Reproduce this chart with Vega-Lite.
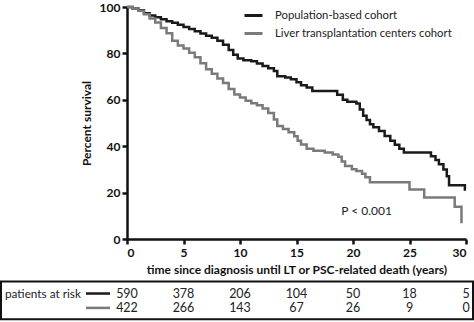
{
  "$schema": "https://vega.github.io/schema/vega-lite/v6.json",
  "width": 339,
  "height": 232,
  "autosize": {"type": "none"},
  "padding": {"left": 127, "top": 7, "right": 8, "bottom": 83},
  "background": "white",
  "config": {
    "view": {"stroke": null},
    "font": "Lato",
    "axis": {
      "grid": false,
      "domainColor": "#111",
      "domainWidth": 2.5,
      "tickColor": "#111",
      "tickWidth": 2.5,
      "tickSize": 5,
      "labelFont": "Lato",
      "labelFontWeight": "bold",
      "labelFontSize": 12,
      "labelColor": "#111",
      "titleFont": "Lato",
      "titleFontWeight": "bold",
      "titleFontSize": 12,
      "titleColor": "#111"
    }
  },
  "datasets": {
    "surv": [
      {"cohort": "Population-based cohort", "t": 0, "s": 100},
      {"cohort": "Population-based cohort", "t": 0.5, "s": 99.3},
      {"cohort": "Population-based cohort", "t": 1, "s": 98.6},
      {"cohort": "Population-based cohort", "t": 1.5, "s": 97.3},
      {"cohort": "Population-based cohort", "t": 2, "s": 96.3},
      {"cohort": "Population-based cohort", "t": 2.5, "s": 95.6},
      {"cohort": "Population-based cohort", "t": 3, "s": 94.7},
      {"cohort": "Population-based cohort", "t": 3.5, "s": 93.9},
      {"cohort": "Population-based cohort", "t": 4, "s": 93.2},
      {"cohort": "Population-based cohort", "t": 4.5, "s": 92.3},
      {"cohort": "Population-based cohort", "t": 5, "s": 91.4},
      {"cohort": "Population-based cohort", "t": 5.5, "s": 90.5},
      {"cohort": "Population-based cohort", "t": 6, "s": 89.5},
      {"cohort": "Population-based cohort", "t": 6.5, "s": 88.6},
      {"cohort": "Population-based cohort", "t": 7, "s": 87.6},
      {"cohort": "Population-based cohort", "t": 7.5, "s": 86.7},
      {"cohort": "Population-based cohort", "t": 8, "s": 85.4},
      {"cohort": "Population-based cohort", "t": 8.5, "s": 83.7},
      {"cohort": "Population-based cohort", "t": 9, "s": 81.5},
      {"cohort": "Population-based cohort", "t": 9.4, "s": 79.4},
      {"cohort": "Population-based cohort", "t": 9.8, "s": 77.8},
      {"cohort": "Population-based cohort", "t": 10.3, "s": 77.1},
      {"cohort": "Population-based cohort", "t": 11, "s": 76.6},
      {"cohort": "Population-based cohort", "t": 11.5, "s": 75.6},
      {"cohort": "Population-based cohort", "t": 12, "s": 74.6},
      {"cohort": "Population-based cohort", "t": 12.5, "s": 73.6},
      {"cohort": "Population-based cohort", "t": 13, "s": 72.4},
      {"cohort": "Population-based cohort", "t": 13.3, "s": 70.2},
      {"cohort": "Population-based cohort", "t": 14, "s": 69.6},
      {"cohort": "Population-based cohort", "t": 14.5, "s": 68.9},
      {"cohort": "Population-based cohort", "t": 15, "s": 67.6},
      {"cohort": "Population-based cohort", "t": 15.4, "s": 66.3},
      {"cohort": "Population-based cohort", "t": 15.9, "s": 65.3},
      {"cohort": "Population-based cohort", "t": 16.4, "s": 63.8},
      {"cohort": "Population-based cohort", "t": 18.6, "s": 62.2},
      {"cohort": "Population-based cohort", "t": 19.1, "s": 60},
      {"cohort": "Population-based cohort", "t": 19.5, "s": 59.2},
      {"cohort": "Population-based cohort", "t": 20.3, "s": 58.4},
      {"cohort": "Population-based cohort", "t": 20.6, "s": 55.8},
      {"cohort": "Population-based cohort", "t": 20.9, "s": 53.1},
      {"cohort": "Population-based cohort", "t": 21.2, "s": 51.3},
      {"cohort": "Population-based cohort", "t": 21.5, "s": 49.5},
      {"cohort": "Population-based cohort", "t": 21.8, "s": 48.2},
      {"cohort": "Population-based cohort", "t": 22.3, "s": 46.6},
      {"cohort": "Population-based cohort", "t": 22.8, "s": 44.4},
      {"cohort": "Population-based cohort", "t": 23.3, "s": 42.3},
      {"cohort": "Population-based cohort", "t": 23.7, "s": 40.6},
      {"cohort": "Population-based cohort", "t": 24.1, "s": 38.9},
      {"cohort": "Population-based cohort", "t": 24.5, "s": 37.3},
      {"cohort": "Population-based cohort", "t": 26.9, "s": 35.7},
      {"cohort": "Population-based cohort", "t": 27.3, "s": 34},
      {"cohort": "Population-based cohort", "t": 27.6, "s": 32.2},
      {"cohort": "Population-based cohort", "t": 28, "s": 30},
      {"cohort": "Population-based cohort", "t": 28.3, "s": 27},
      {"cohort": "Population-based cohort", "t": 28.5, "s": 23.2},
      {"cohort": "Population-based cohort", "t": 29.9, "s": 21.3},
      {"cohort": "Population-based cohort", "t": 30, "s": 21.3},
      {"cohort": "Liver transplantation centers cohort", "t": 0, "s": 100},
      {"cohort": "Liver transplantation centers cohort", "t": 0.5, "s": 99.3},
      {"cohort": "Liver transplantation centers cohort", "t": 1, "s": 98.4},
      {"cohort": "Liver transplantation centers cohort", "t": 1.5, "s": 96.9},
      {"cohort": "Liver transplantation centers cohort", "t": 2, "s": 95},
      {"cohort": "Liver transplantation centers cohort", "t": 2.5, "s": 93.3},
      {"cohort": "Liver transplantation centers cohort", "t": 3, "s": 91},
      {"cohort": "Liver transplantation centers cohort", "t": 3.5, "s": 88.7},
      {"cohort": "Liver transplantation centers cohort", "t": 4, "s": 85.5},
      {"cohort": "Liver transplantation centers cohort", "t": 4.5, "s": 83.4},
      {"cohort": "Liver transplantation centers cohort", "t": 5, "s": 82.1},
      {"cohort": "Liver transplantation centers cohort", "t": 5.5, "s": 80.3},
      {"cohort": "Liver transplantation centers cohort", "t": 6, "s": 78.3},
      {"cohort": "Liver transplantation centers cohort", "t": 6.5, "s": 75.8},
      {"cohort": "Liver transplantation centers cohort", "t": 7, "s": 73.2},
      {"cohort": "Liver transplantation centers cohort", "t": 7.5, "s": 71.2},
      {"cohort": "Liver transplantation centers cohort", "t": 8, "s": 69.2},
      {"cohort": "Liver transplantation centers cohort", "t": 8.5, "s": 67.2},
      {"cohort": "Liver transplantation centers cohort", "t": 9, "s": 64.7},
      {"cohort": "Liver transplantation centers cohort", "t": 9.5, "s": 62.3},
      {"cohort": "Liver transplantation centers cohort", "t": 10, "s": 61},
      {"cohort": "Liver transplantation centers cohort", "t": 10.5, "s": 59.6},
      {"cohort": "Liver transplantation centers cohort", "t": 11, "s": 58.5},
      {"cohort": "Liver transplantation centers cohort", "t": 11.5, "s": 57.6},
      {"cohort": "Liver transplantation centers cohort", "t": 12, "s": 56.2},
      {"cohort": "Liver transplantation centers cohort", "t": 12.5, "s": 54.3},
      {"cohort": "Liver transplantation centers cohort", "t": 13, "s": 51.5},
      {"cohort": "Liver transplantation centers cohort", "t": 13.3, "s": 48.7},
      {"cohort": "Liver transplantation centers cohort", "t": 13.8, "s": 47.4},
      {"cohort": "Liver transplantation centers cohort", "t": 14.3, "s": 46},
      {"cohort": "Liver transplantation centers cohort", "t": 14.8, "s": 44.3},
      {"cohort": "Liver transplantation centers cohort", "t": 15.1, "s": 42.4},
      {"cohort": "Liver transplantation centers cohort", "t": 15.4, "s": 40.7},
      {"cohort": "Liver transplantation centers cohort", "t": 15.9, "s": 38.9},
      {"cohort": "Liver transplantation centers cohort", "t": 16.5, "s": 38},
      {"cohort": "Liver transplantation centers cohort", "t": 17.5, "s": 37.3},
      {"cohort": "Liver transplantation centers cohort", "t": 18.2, "s": 36.4},
      {"cohort": "Liver transplantation centers cohort", "t": 18.7, "s": 35.5},
      {"cohort": "Liver transplantation centers cohort", "t": 19, "s": 33.4},
      {"cohort": "Liver transplantation centers cohort", "t": 19.3, "s": 31.5},
      {"cohort": "Liver transplantation centers cohort", "t": 19.9, "s": 30.1},
      {"cohort": "Liver transplantation centers cohort", "t": 20.3, "s": 29.3},
      {"cohort": "Liver transplantation centers cohort", "t": 20.8, "s": 28.1},
      {"cohort": "Liver transplantation centers cohort", "t": 21.1, "s": 26.6},
      {"cohort": "Liver transplantation centers cohort", "t": 21.5, "s": 24.5},
      {"cohort": "Liver transplantation centers cohort", "t": 25, "s": 21.3},
      {"cohort": "Liver transplantation centers cohort", "t": 26.3, "s": 17.9},
      {"cohort": "Liver transplantation centers cohort", "t": 29, "s": 13.9},
      {"cohort": "Liver transplantation centers cohort", "t": 29.6, "s": 6.8}
    ],
    "risk": [
      {"cohort": "Population-based cohort", "t": 0, "n": 590},
      {"cohort": "Population-based cohort", "t": 5, "n": 378},
      {"cohort": "Population-based cohort", "t": 10, "n": 206},
      {"cohort": "Population-based cohort", "t": 15, "n": 104},
      {"cohort": "Population-based cohort", "t": 20, "n": 50},
      {"cohort": "Population-based cohort", "t": 25, "n": 18},
      {"cohort": "Population-based cohort", "t": 30, "n": 5},
      {"cohort": "Liver transplantation centers cohort", "t": 0, "n": 422},
      {"cohort": "Liver transplantation centers cohort", "t": 5, "n": 266},
      {"cohort": "Liver transplantation centers cohort", "t": 10, "n": 143},
      {"cohort": "Liver transplantation centers cohort", "t": 15, "n": 67},
      {"cohort": "Liver transplantation centers cohort", "t": 20, "n": 26},
      {"cohort": "Liver transplantation centers cohort", "t": 25, "n": 9},
      {"cohort": "Liver transplantation centers cohort", "t": 30, "n": 0}
    ],
    "one": [{}]
  },
  "layer": [
    {
      "data": {"name": "surv"},
      "mark": {"type": "line", "interpolate": "step-after", "strokeWidth": 2.5},
      "encoding": {
        "x": {
          "field": "t", "type": "quantitative",
          "scale": {"domain": [0, 30], "nice": false},
          "axis": {"values": [0, 5, 10, 15, 20, 25, 30], "title": "time since diagnosis until LT or PSC-related death (years)", "titlePadding": 6, "labelPadding": 3}
        },
        "y": {
          "field": "s", "type": "quantitative",
          "scale": {"domain": [0, 100], "nice": false},
          "axis": {"values": [0, 20, 40, 60, 80, 100], "title": "Percent survival", "titlePadding": 6, "labelPadding": 2}
        },
        "color": {
          "field": "cohort", "type": "nominal",
          "scale": {"domain": ["Population-based cohort", "Liver transplantation centers cohort"], "range": ["#1a1a1a", "#7a7a7a"]},
          "legend": {
            "title": null,
            "orient": "none",
            "legendX": 116,
            "legendY": -2,
            "symbolType": "stroke",
            "symbolSize": 324,
            "symbolStrokeWidth": 3,
            "labelFontSize": 11.3,
            "labelColor": "#222",
            "labelFont": "Lato",
            "labelOffset": 11,
            "labelLimit": 0,
            "rowPadding": 1
          }
        }
      }
    },
    {
      "data": {"name": "one"},
      "mark": {"type": "text", "fontSize": 12, "color": "#222", "align": "center"},
      "encoding": {
        "x": {"datum": 21.2},
        "y": {"datum": 12},
        "text": {"value": "P < 0.001"}
      }
    },
    {
      "data": {"name": "one"},
      "mark": {"type": "rect", "fill": null, "stroke": "#111", "strokeWidth": 2},
      "encoding": {
        "x": {"datum": -11.15},
        "x2": {"datum": 30.62},
        "y": {"datum": -18.3},
        "y2": {"datum": -34.6}
      }
    },
    {
      "data": {"name": "one"},
      "mark": {"type": "text", "fontSize": 11.8, "color": "#222", "align": "left"},
      "encoding": {
        "x": {"datum": -10.8},
        "y": {"datum": -23.5},
        "text": {"value": "patients at risk"}
      }
    },
    {
      "data": {"name": "one"},
      "mark": {"type": "rule", "strokeWidth": 2.5, "color": "#1a1a1a"},
      "encoding": {
        "x": {"datum": -3.63},
        "x2": {"datum": -1.5},
        "y": {"datum": -23.5}
      }
    },
    {
      "data": {"name": "one"},
      "mark": {"type": "rule", "strokeWidth": 2.5, "color": "#7a7a7a"},
      "encoding": {
        "x": {"datum": -3.63},
        "x2": {"datum": -1.5},
        "y": {"datum": -29.7}
      }
    },
    {
      "data": {"name": "risk"},
      "transform": [{"filter": "datum.cohort == 'Population-based cohort'"}],
      "mark": {"type": "text", "fontSize": 12.5, "color": "#222", "align": "center"},
      "encoding": {
        "x": {"field": "t", "type": "quantitative"},
        "y": {"datum": -23.5},
        "text": {"field": "n", "type": "quantitative"}
      }
    },
    {
      "data": {"name": "risk"},
      "transform": [{"filter": "datum.cohort == 'Liver transplantation centers cohort'"}],
      "mark": {"type": "text", "fontSize": 12.5, "color": "#222", "align": "center"},
      "encoding": {
        "x": {"field": "t", "type": "quantitative"},
        "y": {"datum": -29.7},
        "text": {"field": "n", "type": "quantitative"}
      }
    }
  ]
}
